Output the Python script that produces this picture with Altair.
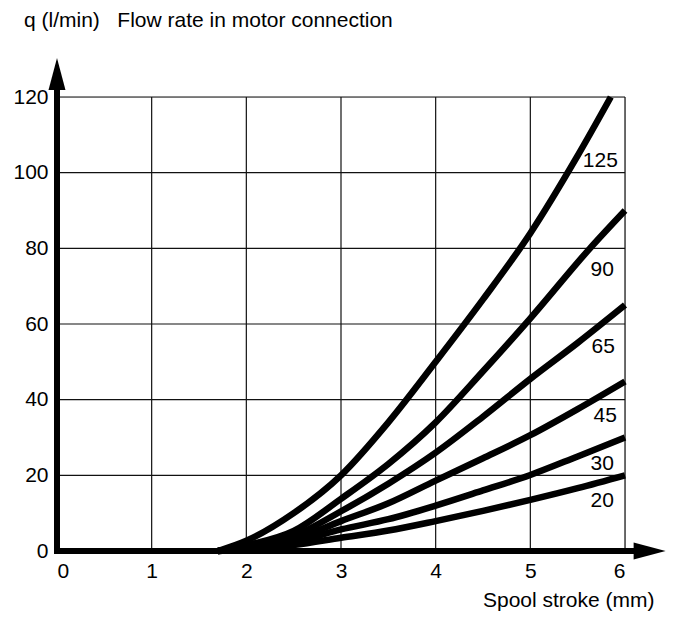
import altair as alt
import pandas as pd

# ---- data ----
series_names = ["125", "90", "65", "45", "30", "20"]
x_125 = [1.7, 2.0, 2.5, 3.0, 3.5, 4.0, 4.5, 5.0, 5.5, 5.85]
q_125 = [0, 2.7, 10, 20, 34, 50, 66.5, 84, 104.5, 120]
x_90 = [1.7, 2.0, 2.5, 3.0, 3.5, 4.0, 4.5, 5.0, 5.63, 6.0]
q_90 = [0, 1.5, 5.3, 13.8, 23, 34, 47.5, 61.5, 80, 90]
x_65 = [1.7, 2.0, 2.5, 3.0, 3.5, 4.0, 4.5, 5.0, 5.5, 6.0]
q_65 = [0, 1.2, 4.0, 10.5, 17.8, 26, 35.5, 45.5, 55, 65]
x_45 = [1.7, 2.0, 2.5, 3.0, 3.5, 4.0, 4.5, 5.0, 5.5, 6.0]
q_45 = [0, 0.8, 3.0, 7.9, 12.6, 18.6, 24.5, 30.6, 37.5, 44.8]
x_30 = [1.7, 2.0, 2.5, 3.0, 3.5, 4.0, 4.5, 5.0, 5.5, 6.0]
q_30 = [0, 0.6, 2.3, 5.7, 8.4, 12, 16, 20.1, 25, 30]
x_20 = [1.7, 2.0, 2.5, 3.0, 3.5, 4.0, 4.5, 5.0, 5.5, 6.0]
q_20 = [0, 0.4, 1.6, 3.5, 5.4, 7.9, 10.6, 13.5, 16.6, 20]

label_x = [5.74, 5.76, 5.77, 5.79, 5.76, 5.76]
label_q = [103, 74.4, 53.8, 35.6, 22.9, 13.3]

x_ticks = [0, 1, 2, 3, 4, 5, 6]
y_ticks = [0, 20, 40, 60, 80, 100, 120]

title_text = "q (l/min)\u00a0\u00a0\u00a0Flow rate in motor connection"
x_title = "Spool stroke (mm)"

# ---- build tables ----
xs = [x_125, x_90, x_65, x_45, x_30, x_20]
qs = [q_125, q_90, q_65, q_45, q_30, q_20]
rows = []
for name, xv, qv in zip(series_names, xs, qs):
    for i, (a, b) in enumerate(zip(xv, qv)):
        rows.append({"series": name, "x": a, "q": b, "order": i})
curves = pd.DataFrame(rows)
labels = pd.DataFrame({"series": series_names, "x": label_x, "q": label_q})

vgrid = pd.DataFrame({"x": x_ticks[1:], "y0": 0, "y1": y_ticks[-1]})
hgrid = pd.DataFrame({"y": y_ticks[1:], "x0": 0, "x1": x_ticks[-1]})

FONT = "Liberation Sans"
xs_scale = alt.Scale(domain=[0, 6], nice=False, zero=False)
ys_scale = alt.Scale(domain=[0, 120], nice=False, zero=False)

base_x_axis = alt.Axis(values=x_ticks, format="d", domain=False, ticks=False, grid=False,
                       labelFontSize=21, labelFont=FONT, labelColor="black",
                       labelPadding=9, title=x_title, titleFont=FONT,
                       titleFontSize=21, titleFontWeight="normal", titleColor="black",
                       titleAnchor="end", titleAlign="right", titleX=597, titleY=49,
                       titleBaseline="middle")
base_y_axis = alt.Axis(values=y_ticks, format="d", domain=False, ticks=False, grid=False,
                       labelFontSize=21, labelFont=FONT, labelColor="black",
                       labelPadding=9, title=None)

vg = alt.Chart(vgrid).mark_rule(color="#111", strokeWidth=1.2).encode(
    x=alt.X("x:Q", scale=xs_scale, axis=base_x_axis),
    y=alt.Y("y0:Q", scale=ys_scale, axis=base_y_axis),
    y2="y1:Q",
)
hg = alt.Chart(hgrid).mark_rule(color="#111", strokeWidth=1.2).encode(
    y=alt.Y("y:Q", scale=ys_scale),
    x=alt.X("x0:Q", scale=xs_scale),
    x2="x1:Q",
)

# axis lines with arrows
xaxis_line = alt.Chart(pd.DataFrame({"x0": [0], "x1": [6.2], "y": [0]})).mark_rule(
    color="black", strokeWidth=6, strokeCap="square").encode(
    x=alt.X("x0:Q", scale=xs_scale), x2="x1:Q", y=alt.Y("y:Q", scale=ys_scale))
yaxis_line = alt.Chart(pd.DataFrame({"y0": [0], "y1": [125], "x": [0]})).mark_rule(
    color="black", strokeWidth=6, strokeCap="square").encode(
    y=alt.Y("y0:Q", scale=ys_scale), y2="y1:Q", x=alt.X("x:Q", scale=xs_scale))

x_arrow = alt.Chart(pd.DataFrame({"x": [6.26], "y": [0]})).mark_point(
    shape="M 1 0 L -1 -0.53 L -1 0.53 Z", size=1024, filled=True,
    color="black", opacity=1, strokeWidth=0).encode(
    x=alt.X("x:Q", scale=xs_scale), y=alt.Y("y:Q", scale=ys_scale))
y_arrow = alt.Chart(pd.DataFrame({"x": [0], "y": [126.1]})).mark_point(
    shape="M 0 -1 L -0.53 1 L 0.53 1 Z", size=1024, filled=True,
    color="black", opacity=1, strokeWidth=0).encode(
    x=alt.X("x:Q", scale=xs_scale), y=alt.Y("y:Q", scale=ys_scale))

lines = alt.Chart(curves).mark_line(
    color="black", strokeWidth=6.5, interpolate="monotone", strokeCap="butt").encode(
    x=alt.X("x:Q", scale=xs_scale),
    y=alt.Y("q:Q", scale=ys_scale),
    detail="series:N",
    order="order:Q",
)

texts = alt.Chart(labels).mark_text(
    font=FONT, fontSize=21, color="black", align="center", baseline="middle").encode(
    x=alt.X("x:Q", scale=xs_scale),
    y=alt.Y("q:Q", scale=ys_scale),
    text="series:N",
)

title = alt.Chart(pd.DataFrame({"t": [title_text]})).mark_text(
    font=FONT, fontSize=21, color="black", align="left", baseline="middle").encode(
    x=alt.value(-33), y=alt.value(-76), text="t:N")

chart = alt.layer(vg, hg, lines, xaxis_line, yaxis_line, x_arrow, y_arrow, texts, title).properties(
    width=568, height=454,
    autosize=alt.AutoSizeParams(type="none"),
    padding={"left": 49, "top": 89, "right": 42, "bottom": 61},
).configure_view(stroke=None).configure(background="white")

chart.save("out.html", embed_options={"renderer": "svg", "actions": False})
